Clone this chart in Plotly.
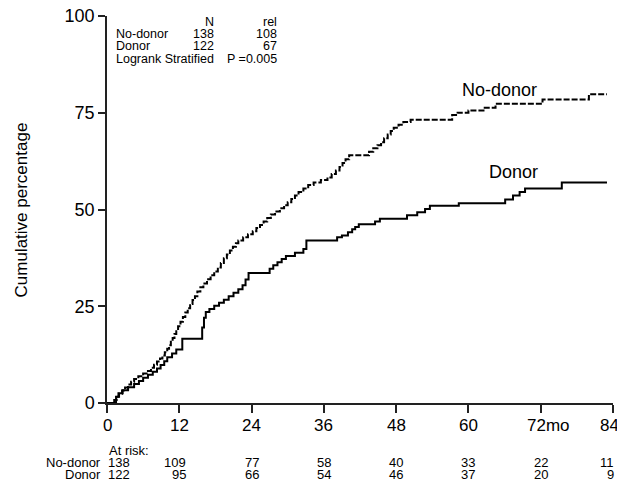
import plotly.graph_objects as go

# No-donor (dashed) cumulative incidence steps
nd_t = [0, 1.2, 1.6, 2.0, 2.5, 3.0, 3.5, 4.0, 4.5, 5.2, 6.0, 6.8, 7.3, 7.8, 8.3, 8.8, 9.2, 9.6,
        10.0, 10.3, 10.6, 10.9, 11.2, 11.5, 11.8, 12.2, 12.6, 13.0, 13.4, 13.8, 14.2, 14.6, 15.0,
        15.5, 16.0, 16.6, 17.2, 17.8, 18.4, 18.9, 19.4, 19.9, 20.4, 20.9, 21.4, 21.8, 22.6, 23.4,
        24.2, 24.8, 25.4, 26.0, 26.6, 27.2, 27.9, 28.7, 29.4, 30.0, 30.6, 31.2, 31.8, 32.6, 33.4,
        34.3, 35.5, 36.6, 37.3, 38.0, 38.6, 39.1, 39.6, 40.2, 43.5, 44.2, 44.9, 45.5, 46.0, 46.6,
        47.1, 47.6, 48.4, 49.2, 50.4, 57.3, 58.2, 60.0, 62.5, 64.5, 72.3, 80.0, 83.0]
nd_v = [0, 0.8, 1.6, 2.4, 3.2, 4.0, 4.8, 5.5, 6.2, 6.9, 7.6, 8.3, 9.1, 9.9, 10.7, 11.5, 12.3, 13.1,
        14.0, 14.9, 15.8, 16.8, 17.8, 18.8, 19.8, 21.0, 22.2, 23.4, 24.5, 25.6, 26.6, 27.6, 28.8,
        29.9, 30.9, 32.0, 33.0, 34.0, 35.0, 36.2, 37.4, 38.4, 39.4, 40.4, 41.3, 42.0, 42.8, 43.6,
        44.4, 45.2, 46.0, 46.9, 47.8, 48.7, 49.5, 50.3, 51.1, 51.9, 52.7, 53.6, 54.5, 55.4, 56.3,
        57.0, 57.6, 58.3, 59.2, 60.1, 61.0, 62.0, 63.0, 64.0, 64.9, 65.8, 66.6, 67.4, 68.4, 69.4,
        70.3, 71.1, 71.9, 72.6, 73.2, 74.4, 75.0, 75.6, 76.3, 77.3, 78.4, 79.8, 79.8]

# Donor (solid) cumulative incidence steps
d_t = [0, 1.5, 1.9, 2.6, 3.5, 4.5, 5.3, 6.0, 6.8, 7.6, 8.3, 8.9, 9.5, 10.0, 10.8, 11.5, 12.5,
       15.8, 16.1, 16.4, 17.0, 17.8, 18.6, 19.4, 20.2, 21.0, 21.8, 22.5, 23.0, 23.5, 27.0, 27.6,
       28.3, 29.0, 29.7, 31.2, 32.6, 33.1, 38.2, 39.0, 40.0, 40.7, 41.2, 41.8, 44.5, 45.3, 49.8,
       51.5, 52.8, 53.6, 58.4, 66.1, 67.4, 68.5, 69.4, 75.5, 83.0]
d_v = [0, 1.6, 2.5, 3.3, 4.1, 4.9, 5.7, 6.5, 7.3, 8.1, 8.9, 9.8, 10.8, 11.8, 12.8, 13.8, 16.6,
       19.5, 22.0, 23.5, 24.3, 25.1, 25.9, 26.7, 27.6, 28.5, 29.4, 30.4, 31.9, 33.6, 34.7, 35.6,
       36.4, 37.2, 38.0, 38.8, 39.8, 42.0, 42.8, 43.3, 44.1, 44.9, 45.5, 46.2, 46.9, 47.6, 48.5,
       49.3, 50.1, 51.0, 51.6, 52.6, 53.6, 54.5, 55.4, 57.0, 57.0]

x_ticks = [0, 12, 24, 36, 48, 60, 72, 84]
x_tick_labels = ["0", "12", "24", "36", "48", "60", "72mo", "84"]
y_ticks = [0, 25, 50, 75, 100]

risk_times = [0, 12, 24, 36, 48, 60, 72, 84]
risk_nodonor = [138, 109, 77, 58, 40, 33, 22, 11]
risk_donor = [122, 95, 66, 54, 46, 37, 20, 9]

FONT = "Liberation Sans, Arial, sans-serif"

fig = go.Figure()
fig.add_trace(go.Scatter(x=nd_t, y=nd_v, mode="lines", line_shape="hv",
                         line=dict(color="black", width=2, dash="6px,2px"), name="No-donor"))
fig.add_trace(go.Scatter(x=d_t, y=d_v, mode="lines", line_shape="hv",
                         line=dict(color="black", width=2), name="Donor"))

ann = []
# header block
hdr_font = dict(family=FONT, size=12.5, color="black")
ann += [
    dict(x=18.1, y=98.4, text="N", xanchor="right"),
    dict(x=28.55, y=98.4, text="rel", xanchor="right"),
    dict(x=1.2, y=95.3, text="No-donor", xanchor="left"),
    dict(x=18.1, y=95.3, text="138", xanchor="right"),
    dict(x=28.55, y=95.3, text="108", xanchor="right"),
    dict(x=1.2, y=92.2, text="Donor", xanchor="left"),
    dict(x=18.1, y=92.2, text="122", xanchor="right"),
    dict(x=28.55, y=92.2, text="67", xanchor="right"),
    dict(x=1.2, y=89.0, text="Logrank Stratified", xanchor="left"),
    dict(x=28.55, y=89.0, text="P =0.005", xanchor="right"),
]
for a in ann:
    a.update(xref="x", yref="y", yanchor="middle", showarrow=False, font=hdr_font)

# curve labels
lab_font = dict(family=FONT, size=18, color="black")
ann.append(dict(x=58.6, y=81.0, text="No-donor", xref="x", yref="y", xanchor="left",
                yanchor="middle", showarrow=False, font=lab_font))
ann.append(dict(x=63.0, y=59.7, text="Donor", xref="x", yref="y", xanchor="left",
                yanchor="middle", showarrow=False, font=lab_font))

# x tick labels drawn as text (so the edge label is not dropped)
tk_font = dict(family=FONT, size=17, color="black")
for v, lab in zip(x_ticks, x_tick_labels):
    if lab.endswith("mo"):
        shift = 8
    elif v == 84:
        shift = -4
    else:
        shift = 0
    ann.append(dict(x=v, y=-0.058, text=lab, xref="x", yref="paper", xanchor="center",
                    xshift=shift, yanchor="middle", showarrow=False, font=tk_font))

# y-axis title
ann.append(dict(x=-0.168, y=0.5, text="Cumulative percentage", xref="paper", yref="paper",
                textangle=-90, xanchor="center", yanchor="middle", showarrow=False,
                font=dict(family=FONT, size=17, color="black")))

# at-risk table
rk_font = dict(family=FONT, size=13, color="black")
ann.append(dict(x=0, y=-0.124, text="At risk:", xref="x", yref="paper", xanchor="left",
                yanchor="middle", showarrow=False, font=rk_font))
ann.append(dict(x=0, y=-0.155, text="No-donor", xref="x", yref="paper", xanchor="right",
                xshift=-4, yanchor="middle", showarrow=False, font=rk_font))
ann.append(dict(x=0, y=-0.186, text="Donor", xref="x", yref="paper", xanchor="right",
                xshift=-4, yanchor="middle", showarrow=False, font=rk_font))
for t, a_nd, a_d in zip(risk_times, risk_nodonor, risk_donor):
    if t == 0:
        kw = dict(xanchor="left", xshift=-1)
    elif t == 84:
        kw = dict(xanchor="right", xshift=3)
    else:
        kw = dict(xanchor="right", xshift=9)
    ann.append(dict(x=t, y=-0.155, text=str(a_nd), xref="x", yref="paper",
                    yanchor="middle", showarrow=False, font=rk_font, **kw))
    ann.append(dict(x=t, y=-0.186, text=str(a_d), xref="x", yref="paper",
                    yanchor="middle", showarrow=False, font=rk_font, **kw))

fig.update_layout(
    width=617, height=483,
    margin=dict(l=107, r=4, t=16, b=80),
    paper_bgcolor="white", plot_bgcolor="white",
    showlegend=False,
    annotations=ann,
    font=dict(family=FONT, color="black"),
)
fig.update_xaxes(range=[0, 84], tickvals=x_ticks, showticklabels=False,
                 showgrid=False, zeroline=False, showline=True, linecolor="#222", linewidth=1.5,
                 ticks="outside", ticklen=8, tickwidth=1.5, tickcolor="#222", automargin=False)
fig.update_yaxes(range=[0, 100], tickvals=y_ticks,
                 showgrid=False, zeroline=False, showline=True, linecolor="#222", linewidth=1.5,
                 ticks="outside", ticklen=7, tickwidth=1.5, tickcolor="#222", automargin=False,
                 tickfont=dict(family=FONT, size=18, color="black"))

fig.write_html("out.html", config={"displayModeBar": False},
               post_script="document.body.style.margin='0';document.body.style.overflow='hidden';")
